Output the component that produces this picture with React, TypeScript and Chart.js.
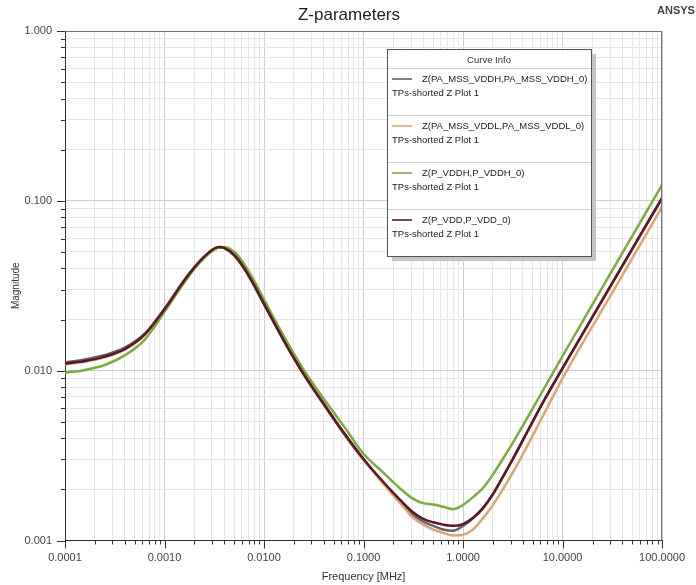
import React, { useEffect, useRef } from "react";
import { Chart, registerables } from "chart.js";

Chart.register(...registerables);

// Frequency points [MHz]
const FREQ = [
  0.0001, 0.000158, 0.000251, 0.000398, 0.000631, 0.001, 0.00158, 0.002, 0.00251, 0.00316,
  0.00355, 0.00398, 0.00501, 0.00631, 0.00794, 0.01, 0.0158, 0.0251, 0.0398, 0.0631,
  0.1, 0.158, 0.251, 0.316, 0.398, 0.501, 0.631, 0.794, 1, 1.26,
  1.58, 2, 2.51, 3.16, 3.98, 6.31, 10, 31.6, 100,
];

// Z(PA_MSS_VDDH,PA_MSS_VDDH_0)
const Z_PA_MSS_VDDH = [
  0.0112, 0.01164, 0.01236, 0.01365, 0.0165, 0.0232, 0.0342, 0.0407, 0.0469, 0.052,
  0.0532, 0.0526, 0.0476, 0.0398, 0.0316, 0.0245, 0.015, 0.00944, 0.00631, 0.00427,
  0.00299, 0.00219, 0.00162, 0.00141, 0.00129, 0.00122, 0.00116, 0.00114, 0.00122, 0.00135,
  0.00154, 0.00187, 0.00236, 0.003, 0.00387, 0.00643, 0.0103, 0.0327, 0.1035,
];

// Z(PA_MSS_VDDL,PA_MSS_VDDL_0)
const Z_PA_MSS_VDDL = [
  0.0109, 0.0113, 0.012, 0.0133, 0.0162, 0.0229, 0.0339, 0.0405, 0.0468, 0.0521,
  0.0535, 0.0531, 0.0492, 0.0413, 0.0328, 0.0255, 0.0155, 0.00977, 0.00646, 0.00435,
  0.00301, 0.00216, 0.00158, 0.00136, 0.00124, 0.00116, 0.00111, 0.00107, 0.00108, 0.00116,
  0.00135, 0.00162, 0.002, 0.00251, 0.00321, 0.00537, 0.00902, 0.0288, 0.092,
];

// Z(P_VDDH,P_VDDH_0)
const Z_P_VDDH = [
  0.00973, 0.0101, 0.0108, 0.0123, 0.0152, 0.0222, 0.033, 0.0398, 0.0462, 0.0516,
  0.0531, 0.0535, 0.0501, 0.0425, 0.0339, 0.0263, 0.016, 0.0101, 0.00684, 0.00473,
  0.00324, 0.00251, 0.00195, 0.00176, 0.00166, 0.00163, 0.00158, 0.00153, 0.00162, 0.0018,
  0.00203, 0.00245, 0.00302, 0.00376, 0.00473, 0.00759, 0.0122, 0.0389, 0.124,
];

// Z(P_VDD,P_VDD_0)
const Z_P_VDD = [
  0.011, 0.0114, 0.0121, 0.0134, 0.0163, 0.023, 0.034, 0.0406, 0.0469, 0.0524,
  0.0535, 0.0528, 0.0481, 0.0403, 0.032, 0.0248, 0.0151, 0.00955, 0.00638, 0.00432,
  0.00302, 0.00221, 0.00166, 0.00146, 0.00134, 0.00128, 0.00124, 0.00122, 0.00125, 0.00136,
  0.00155, 0.00188, 0.00237, 0.00302, 0.00389, 0.00646, 0.01035, 0.0329, 0.104,
];

const SERIES_NAMES = [
  "Z(PA_MSS_VDDH,PA_MSS_VDDH_0)",
  "Z(PA_MSS_VDDL,PA_MSS_VDDL_0)",
  "Z(P_VDDH,P_VDDH_0)",
  "Z(P_VDD,P_VDD_0)",
];
const SERIES_SUB = "TPs-shorted Z Plot 1";
const SERIES_COLORS = ["#626569", "#d9a577", "#7dab42", "#5c1822"];
const SERIES_VALUES = [Z_PA_MSS_VDDH, Z_PA_MSS_VDDL, Z_P_VDDH, Z_P_VDD];

const X_MIN = 0.0001;
const X_MAX = 100;
const Y_MIN = 0.001;
const Y_MAX = 1;

const FONT = "'Liberation Sans', Arial, sans-serif";

function isPow10(v: number) {
  const l = Math.log10(v);
  return Math.abs(l - Math.round(l)) < 1e-9;
}

function logTicks(min: number, max: number) {
  const out: { value: number; major: boolean }[] = [];
  const e0 = Math.floor(Math.log10(min) + 1e-9);
  const e1 = Math.ceil(Math.log10(max) - 1e-9);
  for (let e = e0; e <= e1; e++) {
    for (let s = 1; s <= 9; s++) {
      const v = parseFloat((s * Math.pow(10, e)).toPrecision(6));
      if (v >= min * 0.999999 && v <= max * 1.000001) out.push({ value: v, major: s === 1 });
    }
  }
  return out;
}

const decorPlugin = {
  id: "decor",
  afterDraw(chart: any) {
    const ctx = chart.ctx;
    const area = chart.chartArea;
    const xs = chart.scales.x;
    const ys = chart.scales.y;
    ctx.save();
    // frame (top/right)
    ctx.strokeStyle = "#6f6f6f";
    ctx.lineWidth = 1;
    ctx.beginPath();
    ctx.moveTo(area.left, area.top + 0.5);
    ctx.lineTo(area.right - 0.5, area.top + 0.5);
    ctx.lineTo(area.right - 0.5, area.bottom);
    ctx.stroke();

    // tick marks
    ctx.strokeStyle = "#333";
    ctx.beginPath();
    for (const t of ys.ticks) {
      const py = Math.round(ys.getPixelForValue(t.value)) + 0.5;
      const len = isPow10(t.value) ? 8 : 4;
      ctx.moveTo(area.left - len, py);
      ctx.lineTo(area.left, py);
    }
    for (const t of xs.ticks) {
      const px = Math.round(xs.getPixelForValue(t.value)) + 0.5;
      const len = isPow10(t.value) ? 8 : 4;
      ctx.moveTo(px, area.bottom);
      ctx.lineTo(px, area.bottom + len);
    }
    ctx.stroke();

    // title
    ctx.fillStyle = "#222";
    ctx.font = `17px ${FONT}`;
    ctx.textAlign = "center";
    ctx.textBaseline = "middle";
    ctx.fillText("Z-parameters", 349, 15);
    ctx.font = `bold 11px ${FONT}`;
    ctx.fillStyle = "#444";
    ctx.textAlign = "left";
    ctx.fillText("ANSYS", 657, 11);

    // legend box
    const bx = 387, by = 49, bw = 204, bh = 207;
    ctx.fillStyle = "#c4c4c4";
    ctx.fillRect(bx + 5, by + 5, bw, bh);
    ctx.fillStyle = "#ffffff";
    ctx.fillRect(bx, by, bw, bh);
    ctx.strokeStyle = "#555";
    ctx.lineWidth = 1;
    ctx.strokeRect(bx + 0.5, by + 0.5, bw, bh);
    ctx.fillStyle = "#333";
    ctx.font = `9.5px ${FONT}`;
    ctx.textAlign = "center";
    ctx.fillText("Curve Info", bx + bw / 2, by + 11);
    for (let i = 0; i < SERIES_NAMES.length; i++) {
      const y0 = by + 19 + i * 47;
      ctx.strokeStyle = "#cfcfcf";
      ctx.beginPath();
      ctx.moveTo(bx + 1, y0 + 0.5);
      ctx.lineTo(bx + bw, y0 + 0.5);
      ctx.stroke();
      ctx.strokeStyle = SERIES_COLORS[i];
      ctx.lineWidth = 1.6;
      ctx.beginPath();
      ctx.moveTo(bx + 5, y0 + 11);
      ctx.lineTo(bx + 25, y0 + 11);
      ctx.stroke();
      ctx.lineWidth = 1;
      ctx.fillStyle = "#222";
      ctx.textAlign = "left";
      ctx.fillText(SERIES_NAMES[i], bx + 35, y0 + 11);
      ctx.fillText(SERIES_SUB, bx + 5, y0 + 25);
    }
    ctx.restore();
  },
};

export default function App() {
  const canvasRef = useRef<HTMLCanvasElement | null>(null);

  useEffect(() => {
    document.body.style.margin = "0";
    const canvas = canvasRef.current;
    if (!canvas) return;
    const order = [3, 2, 1, 0]; // P_VDD on top
    const datasets = SERIES_VALUES.map((vals, i) => ({
      label: SERIES_NAMES[i],
      data: FREQ.map((f, k) => ({ x: f, y: vals[k] })),
      borderColor: SERIES_COLORS[i],
      backgroundColor: SERIES_COLORS[i],
      borderWidth: 2.5,
      pointRadius: 0,
      cubicInterpolationMode: "monotone" as const,
      fill: false,
      order: order[i],
    }));
    const gridColor = (c: any) =>
      c.tick && isPow10(c.tick.value) ? "#cdcdcd" : "#e6e6e6";
    const chart = new Chart(canvas, {
      type: "line",
      data: { datasets },
      plugins: [decorPlugin],
      options: {
        animation: false,
        responsive: false,
        devicePixelRatio: 1,
        layout: { padding: { left: 0, right: 23, top: 31, bottom: 0 } },
        plugins: { legend: { display: false }, tooltip: { enabled: false } },
        scales: {
          x: {
            type: "logarithmic",
            min: X_MIN,
            max: X_MAX,
            afterFit: (s: any) => {
              s.height = 44.5;
            },
            afterBuildTicks: (s: any) => {
              s.ticks = logTicks(X_MIN, X_MAX);
            },
            ticks: {
              autoSkip: false,
              maxRotation: 0,
              padding: 11,
              color: "#444",
              font: { family: FONT, size: 11 },
              callback: (v: any) => (isPow10(Number(v)) ? Number(v).toFixed(4) : ""),
            },
            grid: { color: gridColor, drawTicks: false, lineWidth: 1 },
            border: { display: true, color: "#333", width: 1 },
            title: {
              display: true,
              text: "Frequency [MHz]",
              color: "#333",
              font: { family: FONT, size: 11 },
              padding: { top: 0, bottom: 1 },
            },
          },
          y: {
            type: "logarithmic",
            min: Y_MIN,
            max: Y_MAX,
            afterFit: (s: any) => {
              s.width = 65;
            },
            afterBuildTicks: (s: any) => {
              s.ticks = logTicks(Y_MIN, Y_MAX);
            },
            ticks: {
              autoSkip: false,
              padding: 13,
              color: "#444",
              font: { family: FONT, size: 11 },
              callback: (v: any) => (isPow10(Number(v)) ? Number(v).toFixed(3) : ""),
            },
            grid: { color: gridColor, drawTicks: false, lineWidth: 1 },
            border: { display: true, color: "#333", width: 1 },
            title: {
              display: true,
              text: "Magnitude",
              color: "#333",
              font: { family: FONT, size: 10 },
              padding: { top: 10, bottom: 0 },
            },
          },
        },
      } as any,
    });
    return () => chart.destroy();
  }, []);

  return (
    <div style={{ width: 696, height: 585, position: "relative", background: "#fff" }}>
      <canvas ref={canvasRef} width={696} height={585} style={{ display: "block" }} />
    </div>
  );
}
